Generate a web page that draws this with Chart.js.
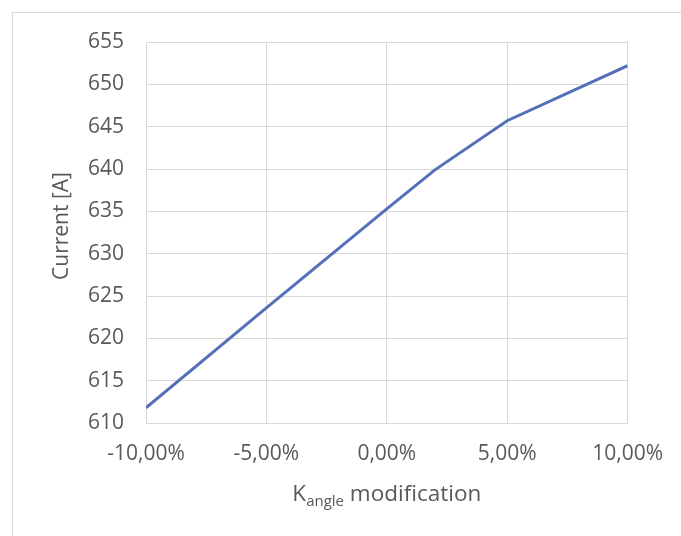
<!DOCTYPE html>
<html>
<head>
<meta charset="utf-8">
<script src="https://cdn.jsdelivr.net/npm/chart.js@4/dist/chart.umd.min.js"></script>
<style>
  body { margin: 0; background: #fff; }
  #wrap { position: relative; width: 681px; height: 536px; }
  #frame { position: absolute; left: 12px; top: 12px; right: 0; bottom: 0;
           border-left: 1px solid #d9d9d9; border-top: 1px solid #d9d9d9; }
  #chart { position: absolute; left: 0; top: 0; }
</style>
</head>
<body>
<div id="wrap">
  <div id="frame"></div>
  <canvas id="chart" width="681" height="536"></canvas>
</div>
<script>
// K_angle modification in %
const kAngle = [-10, -5, 0, 2, 5, 10];
const current = [611.8, 623.6, 635.3, 639.9, 645.7, 652.2];

const yTitle = 'Current [A]';
const xTitleMain = 'K';
const xTitleSub = 'angle';
const xTitleRest = ' modification';

const textColor = '#595959';
const gridColor = '#d9d9d9';
const fontFamily = '"Open Sans", sans-serif';

// axis titles drawn by hand so the subscript works
const axisTitles = {
  id: 'axisTitles',
  afterDraw(chart) {
    const ctx = chart.ctx;
    const area = chart.chartArea;
    ctx.save();
    ctx.fillStyle = textColor;

    // y title
    ctx.font = '21px ' + fontFamily;
    ctx.textAlign = 'center';
    ctx.textBaseline = 'middle';
    ctx.translate(62, 226);
    ctx.rotate(-Math.PI / 2);
    ctx.fillText(yTitle, 0, 0);
    ctx.setTransform(1, 0, 0, 1, 0, 0);

    // x title with subscript
    const big = '22.5px ' + fontFamily;
    const small = '15px ' + fontFamily;
    ctx.textAlign = 'left';
    ctx.textBaseline = 'alphabetic';
    ctx.font = big;
    const w1 = ctx.measureText(xTitleMain).width;
    const w3 = ctx.measureText(xTitleRest).width;
    ctx.font = small;
    const w2 = ctx.measureText(xTitleSub).width;
    let x = (area.left + area.right) / 2 - (w1 + w2 + w3) / 2;
    const base = 501;
    ctx.font = big;
    ctx.fillText(xTitleMain, x, base);
    x += w1;
    ctx.font = small;
    ctx.fillText(xTitleSub, x, base + 5);
    x += w2;
    ctx.font = big;
    ctx.fillText(xTitleRest, x, base);
    ctx.restore();
  }
};

new Chart(document.getElementById('chart').getContext('2d'), {
  type: 'line',
  data: {
    datasets: [{
      label: yTitle,
      data: kAngle.map((k, i) => ({ x: k, y: current[i] })),
      borderColor: '#5470b8',
      backgroundColor: '#5470b8',
      borderWidth: 3,
      pointRadius: 0,
      tension: 0
    }]
  },
  options: {
    responsive: false,
    animation: false,
    layout: { padding: { top: 42, right: 52, left: 0, bottom: 0 } },
    plugins: { legend: { display: false }, tooltip: { enabled: false } },
    scales: {
      x: {
        type: 'linear',
        min: -10,
        max: 10,
        afterFit: s => { s.height = 113; },
        grid: { color: gridColor, drawTicks: false },
        border: { color: gridColor },
        ticks: {
          stepSize: 5,
          padding: 18,
          color: textColor,
          font: { size: 21, family: fontFamily },
          callback: v => v.toFixed(2).replace('.', ',') + '%'
        }
      },
      y: {
        min: 610,
        max: 655,
        afterFit: s => { s.width = 146; },
        grid: { color: gridColor, drawTicks: false },
        border: { color: gridColor },
        ticks: {
          stepSize: 5,
          padding: 22,
          color: textColor,
          font: { size: 21, family: fontFamily }
        }
      }
    }
  },
  plugins: [axisTitles]
});
</script>
</body>
</html>
